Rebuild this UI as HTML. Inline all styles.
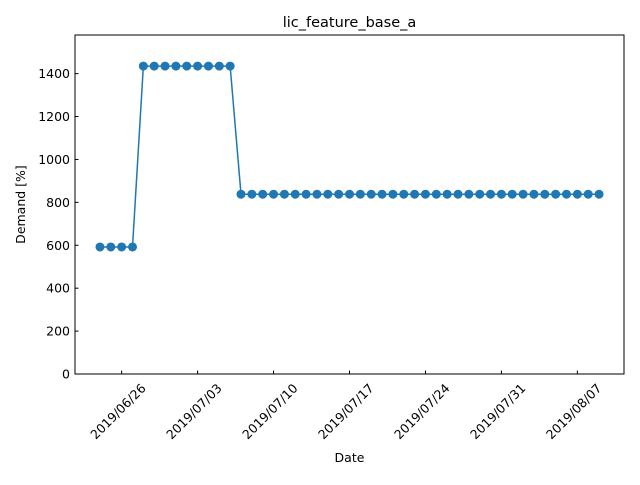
<!DOCTYPE html>
<html><head><meta charset="utf-8"><style>
body{margin:0;background:#fff;font-family:"Liberation Sans","DejaVu Sans",sans-serif;}
svg text{font-family:"DejaVu Sans","Liberation Sans",sans-serif;}
</style></head><body>
<svg id="chart" width="640" height="480">
<rect width="640" height="480" fill="#fff"/>
<g id="plot"></g>
</svg>
<script>
const startDate = "2019-06-24";
const demandValues = [592,592,592,592,1435,1435,1435,1435,1435,1435,1435,1435,1435,
 838,838,838,838,838,838,838,838,838,838,838,838,838,838,838,838,838,838,838,838,838,838,838,838,838,838,838,838,838,838,838,838,838,838];
const yTicks = [0,200,400,600,800,1000,1200,1400];
const xTickLabels = ["2019/06/26","2019/07/03","2019/07/10","2019/07/17","2019/07/24","2019/07/31","2019/08/07"];
const xTickDays = [2,9,16,23,30,37,44];

const L=75,R=624,T=35,B=374;
const n=demandValues.length;
const xMin=-0.05*(n-1), xMax=(n-1)*1.05;
const yMin=0, yMax=1580;
const xs=d=>L+(d-xMin)/(xMax-xMin)*(R-L);
const ys=v=>B-(v-yMin)/(yMax-yMin)*(B-T);
const NS="http://www.w3.org/2000/svg";
const g=document.getElementById('plot');
function mk(t,a,p){const e=document.createElementNS(NS,t);for(const k in a)e.setAttribute(k,a[k]);(p||g).appendChild(e);return e;}

const fr=mk('rect',{x:L,y:T,width:R-L,height:B-T,fill:'none',stroke:'#000','stroke-width':1});



yTicks.forEach(v=>{
  const y=ys(v);
  const tk=mk('line',{x1:L,x2:L+3.5,y1:y,y2:y,stroke:'#000'});
  
  
  const t=mk('text',{x:L-5,y:y+4.5,'text-anchor':'end','font-size':12.5});
  t.textContent=v;
  
  
});
xTickDays.forEach((d,i)=>{
  const x=xs(d);
  const tk=mk('line',{x1:x,x2:x,y1:B,y2:B-3.5,stroke:'#000'});
  
  
  const ax=x+25, ay=B+15;
  const t=mk('text',{x:ax,y:ay,'text-anchor':'end','font-size':12.5,transform:`rotate(-45 ${ax} ${ay})`});
  t.textContent=xTickLabels[i];
  
  
});

const pts=demandValues.map((v,i)=>xs(i)+','+ys(v)).join(' ');
const line=mk('polyline',{points:pts,fill:'none',stroke:'#1f77b4','stroke-width':1.5});


demandValues.forEach((v,i)=>{
  const c=mk('circle',{cx:xs(i),cy:ys(v),r:4.5,fill:'#1f77b4'});
  
  
});

const ti=mk('text',{x:(L+R)/2,y:27,'text-anchor':'middle','font-size':14.5});
ti.textContent='lic_feature_base_a';


const xl=mk('text',{x:(L+R)/2,y:462,'text-anchor':'middle','font-size':12.5});
xl.textContent='Date';


const yl=mk('text',{x:25,y:(T+B)/2,'text-anchor':'middle','font-size':12.5,transform:`rotate(-90 25 ${(T+B)/2})`});
yl.textContent='Demand [%]';


</script>
</body></html>
